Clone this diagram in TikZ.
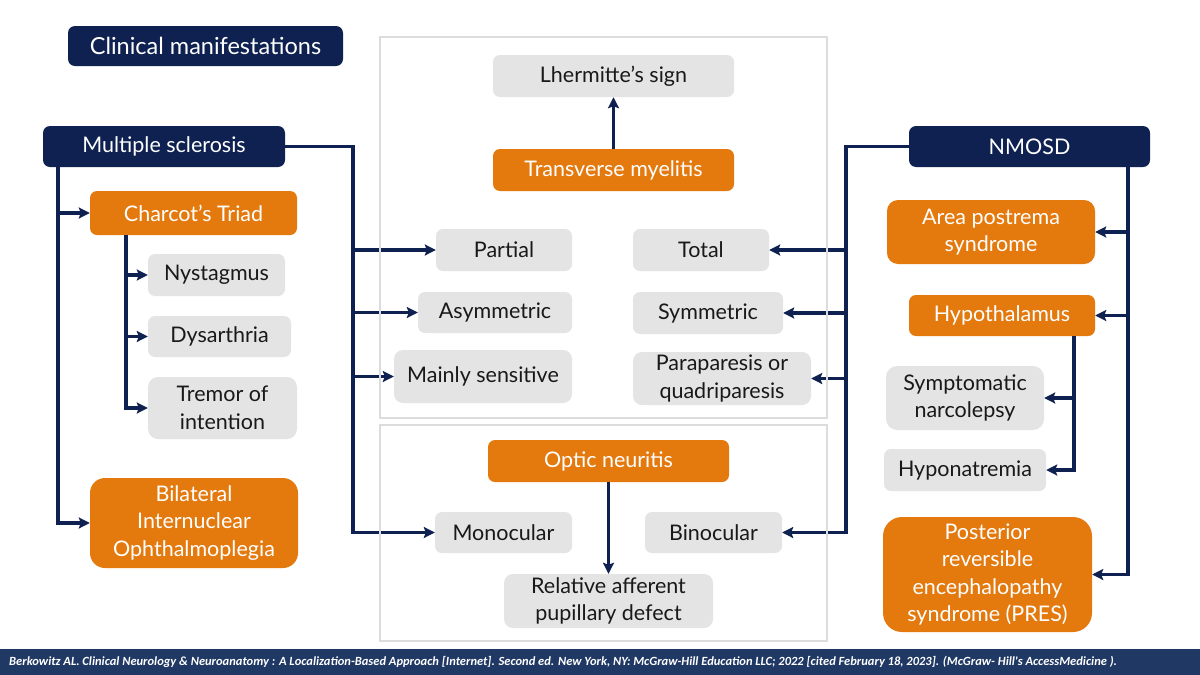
\documentclass[tikz,border=0pt]{standalone}
\usepackage{fontspec}
\setmainfont{Lato}
\newfontfamily\reffont{Carlito}
\usetikzlibrary{arrows.meta}
\definecolor{navy}{HTML}{0E2150}
\definecolor{footblue}{HTML}{203864}
\definecolor{orng}{HTML}{E4790D}
\definecolor{lgray}{HTML}{E4E4E4}
\definecolor{framegray}{HTML}{DCDCDC}

\begin{document}
\begin{tikzpicture}[x=1pt, y=-1pt,
  box/.style={rounded corners=7pt, inner sep=0pt, align=center, font=\fontsize{21.5}{27.5}\selectfont},
  dark/.style={box, fill=navy, text=white},
  hot/.style={box, fill=orng, text=white},
  soft/.style={box, fill=lgray, text=black!90},
  arr/.style={draw=navy, line width=3.2pt, -{Stealth[length=11pt,width=11pt,inset=2pt]}}]
\useasboundingbox (0,0) rectangle (1200,675);
\fill[white] (0,0) rectangle (1200,675);

\path (205.5,46) node[dark, minimum width=275pt, minimum height=40pt, font=\fontsize{23.5}{27}\selectfont] (title) {Clinical manifestations};

% multiple sclerosis side
\path (164,146.5) node[dark, minimum width=242pt, minimum height=41pt] (ms) {Multiple sclerosis};
\path (193.5,213) node[hot, minimum width=207pt, minimum height=44pt] (charcot) {Charcot’s Triad};
\path (216.5,275) node[soft, minimum width=137pt, minimum height=42pt] (nyst) {Nystagmus};
\path (219.5,336.5) node[soft, minimum width=143pt, minimum height=41pt] (dys) {Dysarthria};
\path (222.5,408) node[soft, minimum width=149pt, minimum height=62pt, rounded corners=10pt] (tremor) {Tremor of\\intention};
\path (194,523) node[hot, minimum width=208pt, minimum height=90pt, rounded corners=15pt] (bilat) {Bilateral\\Internuclear\\Ophthalmoplegia};

% centre
\path (613.5,76) node[soft, minimum width=241pt, minimum height=42pt] (lherm) {Lhermitte’s sign};
\path (613.5,170) node[hot, minimum width=241pt, minimum height=42pt] (trans) {Transverse myelitis};
\path (504,250) node[soft, minimum width=136pt, minimum height=42pt] (partial) {Partial};
\path (495,312.5) node[soft, minimum width=154pt, minimum height=41pt] (asym) {Asymmetric};
\path (483,376.5) node[soft, minimum width=178pt, minimum height=53pt, rounded corners=9pt] (mainly) {Mainly sensitive};
\path (701,250) node[soft, minimum width=136pt, minimum height=42pt] (total) {Total};
\path (708,313) node[soft, minimum width=150pt, minimum height=42pt] (sym) {Symmetric};
\path (722,378.5) node[soft, minimum width=178pt, minimum height=53pt, rounded corners=9pt] (para) {Paraparesis or\\quadriparesis};
\path (608.5,461) node[hot, minimum width=241pt, minimum height=42pt] (optic) {Optic neuritis};
\path (503.5,532.5) node[soft, minimum width=137pt, minimum height=41pt] (mono) {Monocular};
\path (713.5,532.5) node[soft, minimum width=137pt, minimum height=41pt] (bino) {Binocular};
\path (608.5,601) node[soft, minimum width=209pt, minimum height=54pt, rounded corners=9pt] (rapd) {Relative afferent\\pupillary defect};

% nmosd side
\path (1029.5,146.5) node[dark, minimum width=241pt, minimum height=41pt] (nmosd) {NMOSD};
\path (991,232) node[hot, minimum width=208pt, minimum height=64pt, rounded corners=11pt] (area) {Area postrema\\syndrome};
\path (1002,315.5) node[hot, minimum width=186pt, minimum height=41pt] (hypo) {Hypothalamus};
\path (965,398) node[soft, minimum width=158pt, minimum height=64pt, rounded corners=11pt] (narco) {Symptomatic\\narcolepsy};
\path (965,470) node[soft, minimum width=162pt, minimum height=42pt] (natr) {Hyponatremia};
\path (987.5,574.5) node[hot, minimum width=209pt, minimum height=115pt, rounded corners=19pt] (pres) {Posterior\\reversible\\encephalopathy\\syndrome (PRES)};

\coordinate (msL) at (58,167);
\coordinate (msR) at (353,146.5);
\coordinate (chL) at (126,235);
\coordinate (nmL) at (846,146.5);
\coordinate (nmR) at (1128,167);
\coordinate (hyL) at (1074,336);

\foreach \t in {charcot, bilat} \draw[arr] (msL) |- (\t);
\foreach \t in {nyst, dys, tremor} \draw[arr] (chL) |- (\t);
\foreach \t in {partial, asym, mainly, mono} \draw[arr] (ms) -- (msR) |- (\t);
\foreach \t in {total, sym, para, bino} \draw[arr] (nmosd) -- (nmL) |- (\t);
\foreach \t in {area, hypo, pres} \draw[arr] (nmR) |- (\t);
\foreach \t in {narco, natr} \draw[arr] (hyL) |- (\t);
\draw[arr] (trans) -- (lherm);
\draw[arr] (optic) -- (rapd);

\draw[framegray, line width=1.5pt] (380,37) rectangle (827,418);
\draw[framegray, line width=1.5pt] (380,425) rectangle (827,641);

\fill[footblue] (0,649) rectangle (1200,675);
\path (9,662) node[anchor=west, inner sep=0pt, text=white, font=\reffont\bfseries\itshape\fontsize{12.5}{14}\selectfont] (ref) {Berkowitz AL. Clinical Neurology \& Neuroanatomy : A Localization-Based Approach [Internet]. Second ed. New York, NY: McGraw-Hill Education LLC; 2022 [cited February 18, 2023]. (McGraw- Hill's AccessMedicine ).};
\end{tikzpicture}
\end{document}
